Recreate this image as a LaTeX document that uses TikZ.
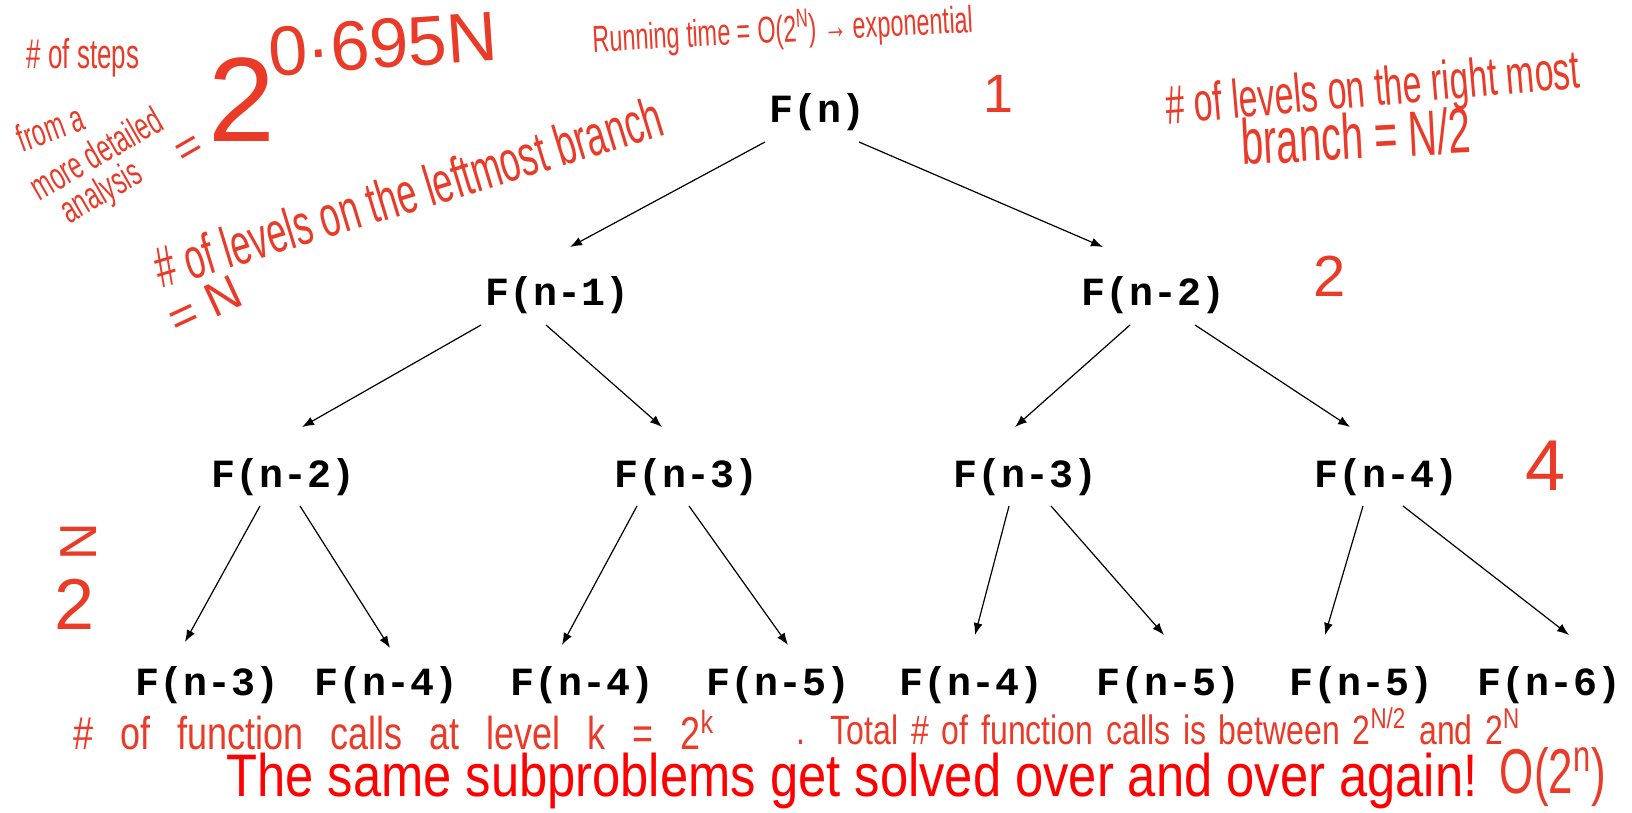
\documentclass[tikz,border=0pt]{standalone}
\usepackage{fontspec}
\setmainfont{Liberation Sans}
\newfontfamily\monofam{Liberation Mono}
\usepackage{xcolor}
\usetikzlibrary{arrows.meta}
\definecolor{inkred}{RGB}{234,58,40}
\definecolor{slidered}{RGB}{255,0,0}
\newcommand{\hw}[1]{\fontsize{#1}{#1}\selectfont}

\begin{document}
\begin{tikzpicture}[
  x=0.5pt, y=-0.5pt,
  call/.style={font=\monofam\bfseries\hw{20}, inner sep=0pt},
  ink/.style={text=inkred, inner sep=0pt, yscale=1.6},
  inknum/.style={text=inkred, inner sep=0pt},
  arr/.style={-{Latex[length=6pt,width=4.5pt]}, line width=0.6pt},
]
  \useasboundingbox (0,0) rectangle (1632,813);

  % recursion tree
  \node[call] (fn)   at (817,112)  {F(n)};
  \node[call] (fa)   at (558,295)  {F(n-1)};
  \node[call] (fb)   at (1153,295) {F(n-2)};
  \node[call] (faa)  at (284,477)  {F(n-2)};
  \node[call] (fab)  at (687,477)  {F(n-3)};
  \node[call] (fba)  at (1025,477) {F(n-3)};
  \node[call] (fbb)  at (1386,477) {F(n-4)};
  \node[call] (faaa) at (208,685)  {F(n-3)};
  \node[call] (faab) at (387,685)  {F(n-4)};
  \node[call] (faba) at (583,685)  {F(n-4)};
  \node[call] (fabb) at (779,685)  {F(n-5)};
  \node[call] (fbaa) at (971,685)  {F(n-4)};
  \node[call] (fbab) at (1168,685) {F(n-5)};
  \node[call] (fbba) at (1361,685) {F(n-5)};
  \node[call] (fbbb) at (1549,685) {F(n-6)};

  \draw[arr] ([shift={(-52,30)}]fn.center) -- ([shift={(12,-48)}]fa.center);
  \draw[arr] ([shift={(42,30)}]fn.center) -- ([shift={(-50,-48)}]fb.center);
  \draw[arr] ([shift={(-77,30)}]fa.center) -- ([shift={(18,-50)}]faa.center);
  \draw[arr] ([shift={(-12,30)}]fa.center) -- ([shift={(-25,-50)}]fab.center);
  \draw[arr] ([shift={(-23,30)}]fb.center) -- ([shift={(-10,-50)}]fba.center);
  \draw[arr] ([shift={(42,30)}]fb.center) -- ([shift={(-36,-50)}]fbb.center);
  \draw[arr] ([shift={(-24,29)}]faa.center) -- ([shift={(-23,-43)}]faaa.center);
  \draw[arr] ([shift={(16,29)}]faa.center) -- ([shift={(3,-37)}]faab.center);
  \draw[arr] ([shift={(-50,29)}]fab.center) -- ([shift={(-21,-40)}]faba.center);
  \draw[arr] ([shift={(2,29)}]fab.center) -- ([shift={(9,-40)}]fabb.center);
  \draw[arr] ([shift={(-16,29)}]fba.center) -- ([shift={(4,-50)}]fbaa.center);
  \draw[arr] ([shift={(26,29)}]fba.center) -- ([shift={(-4,-50)}]fbab.center);
  \draw[arr] ([shift={(-23,29)}]fbb.center) -- ([shift={(-36,-50)}]fbba.center);
  \draw[arr] ([shift={(17,29)}]fbb.center) -- ([shift={(20,-50)}]fbbb.center);

  % handwritten notes
  \node[ink, font=\hw{13}] (steps) at (83,58) {\# of steps};
  \node[rotate=20, ink, font=\hw{12}] (froma) at (50,128) {from a};
  \node[rotate=30, ink, font=\hw{12}] (moredet) at (96,153) {more detailed};
  \node[rotate=30, ink, font=\hw{12}] (analysis) at (102,194) {analysis};
  \node[rotate=30, inknum, font=\hw{22}] (eqsteps) at (190,151) {=};
  \node[inknum, font=\hw{60}] (two) at (242,100) {2};
  \node[rotate=4, inknum, font=\hw{35}] (expo) at (383,44) {0·695N};
  \node[rotate=3, ink, font=\hw{11.7}] (runtime) at (783,30) {Running time = O(2\textsuperscript{N}) → exponential};
  \node[inknum, font=\hw{27}] (one) at (999,94) {1};
  \node[rotate=5, ink, font=\hw{17}] (rightlv) at (1373,92) {\# of levels on the right most};
  \node[rotate=3, ink, font=\hw{20}] (rightbr) at (1356,136) {branch = N/2};
  \node[rotate=17, ink, font=\hw{18}] (leftlv) at (408,192) {\# of levels on the leftmost branch};
  \node[rotate=25, inknum, font=\hw{24}] (leftn) at (205,305) {= N};
  \node[inknum, font=\hw{29}] (lvtwo) at (1330,276) {2};
  \node[inknum, font=\hw{36}] (lvfour) at (1545,466) {4};
  \node[inknum, font=\hw{36}] (lasttwo) at (75,604) {2};
  \node[rotate=90, inknum, font=\hw{26}] (lastn) at (79,542) {N};
  \node[ink, yscale=0.8, font=\hw{18}, anchor=west] (callsk) at (73,730)
    {\spaceskip=0.75em\relax \# of function calls at level k = 2\textsuperscript{k}};
  \node[ink, yscale=0.8, font=\hw{16}, anchor=west] (total) at (796,726)
    {\spaceskip=0.4em\relax .\ \ Total \# of function calls is between 2\textsuperscript{N/2} and 2\textsuperscript{N}};

  % conclusion
  \node[text=slidered, font=\hw{30}, inner sep=0pt, xscale=0.845] (same) at (852,781) {The same subproblems get solved over and over again!};
  \node[ink, font=\hw{22}, yscale=0.9] (bigo) at (1553,777) {O(2\textsuperscript{n})};
\end{tikzpicture}
\end{document}
